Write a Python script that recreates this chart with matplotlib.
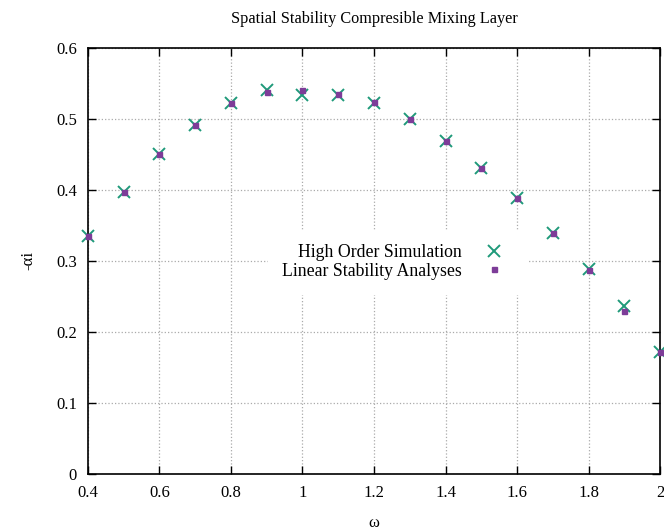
import matplotlib
matplotlib.use("Agg")
import matplotlib.pyplot as plt

omega = [0.4, 0.5, 0.6, 0.7, 0.8, 0.9, 1.0, 1.1, 1.2, 1.3, 1.4, 1.5, 1.6, 1.7, 1.8, 1.9, 2.0]
high_order = [0.335, 0.397, 0.451, 0.491, 0.523, 0.540, 0.534, 0.533, 0.523, 0.500, 0.469, 0.431,
              0.389, 0.340, 0.288, 0.236, 0.172]
linear_stab = [0.335, 0.397, 0.450, 0.491, 0.522, 0.538, 0.540, 0.535, 0.524, 0.500, 0.469, 0.431,
               0.389, 0.339, 0.287, 0.230, 0.172]

plt.rcParams['font.family'] = ['Liberation Serif', 'DejaVu Serif']
plt.rcParams['font.size'] = 12

fig = plt.figure(figsize=(6.64, 5.32), dpi=100)
ax = fig.add_axes([0.1325, 0.109, 0.8615, 0.801])

ax.plot(omega, high_order, ls='none', marker='x', ms=8, mew=1.4, color='#1f9a7a',
        label='High Order Simulation', clip_on=False, zorder=3)
ax.plot(omega, linear_stab, ls='none', marker='s', ms=3.6, color='#7d3c98',
        label='Linear Stability Analyses', clip_on=False, zorder=4)

ax.set_xlim(0.4, 2.0)
ax.set_ylim(0, 0.6)
ax.set_xticks([0.4, 0.6, 0.8, 1.0, 1.2, 1.4, 1.6, 1.8, 2.0])
ax.set_xticklabels(['0.4', '0.6', '0.8', '1', '1.2', '1.4', '1.6', '1.8', '2'])
ax.set_yticks([0, 0.1, 0.2, 0.3, 0.4, 0.5, 0.6])
ax.set_yticklabels(['0', '0.1', '0.2', '0.3', '0.4', '0.5', '0.6'])
ax.tick_params(direction='in', top=True, right=True, length=6, width=1, pad=8)
ax.grid(True, ls=':', color='#aaaaaa', lw=0.9)
for s in ax.spines.values():
    s.set_linewidth(1.2)

ax.set_title('Spatial Stability Compresible Mixing Layer', fontsize=11.7, pad=18)
ax.set_xlabel('ω', fontsize=12, labelpad=10)
ax.set_ylabel('-αi', fontsize=12, labelpad=14)

leg = ax.legend(loc='center', bbox_to_anchor=(0.54, 0.498), markerfirst=False,
                frameon=True, fancybox=False, edgecolor='white', framealpha=1,
                fontsize=12.8, handletextpad=0.8, borderpad=0.8, labelspacing=0.1)
for t in leg.get_texts():
    t.set_ha('right')
leg._legend_box.align = 'right'

fig.savefig('out.png', dpi=100)
